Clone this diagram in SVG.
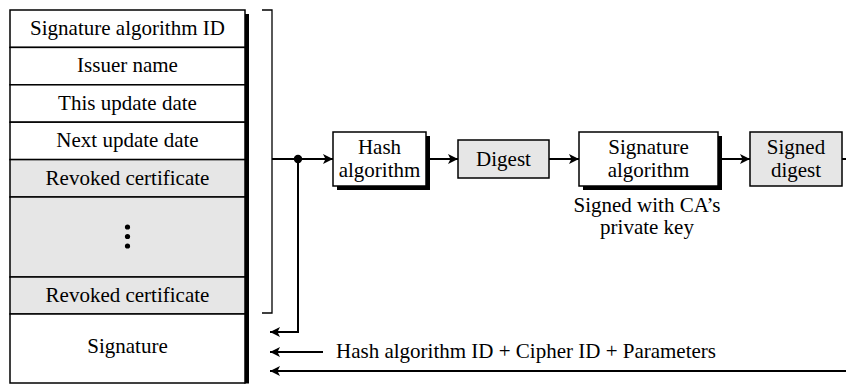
<svg xmlns="http://www.w3.org/2000/svg" width="846" height="385" viewBox="0 0 846 385">
<style>
text{font-family:"Liberation Serif","Times New Roman",serif;font-size:21px;fill:#000;text-anchor:middle}
.cell{stroke:#000;stroke-width:1.5}
.w{fill:#fff}
.g{fill:#e6e6e6}
.sh{fill:#000}
.ln{fill:none;stroke:#000;stroke-width:2}
.br{fill:none;stroke:#000;stroke-width:1.3}
</style>
<defs>
<marker id="ah" viewBox="0 0 10 10" refX="10" refY="5" markerWidth="10" markerHeight="10" markerUnits="userSpaceOnUse" orient="auto">
<path d="M0,0 L10,5 L0,10 L2.5,5 Z" fill="#000"/>
</marker>
</defs>
<g id="crl">
<rect class="sh" x="244" y="14" width="5" height="369.5"/>
<rect class="cell w" x="10" y="10" width="235" height="37.4"/>
<rect class="cell w" x="10" y="47.4" width="235" height="37.4"/>
<rect class="cell w" x="10" y="84.8" width="235" height="37.4"/>
<rect class="cell w" x="10" y="122.2" width="235" height="37.4"/>
<rect class="cell g" x="10" y="159.6" width="235" height="37.4"/>
<rect class="cell g" x="10" y="197" width="235" height="80"/>
<rect class="cell g" x="10" y="277" width="235" height="37"/>
<rect class="cell w" x="10" y="314" width="235" height="69"/>
<text x="127.5" y="35">Signature algorithm ID</text>
<text x="127.5" y="72">Issuer name</text>
<text x="127.5" y="110">This update date</text>
<text x="127.5" y="147">Next update date</text>
<text x="127.5" y="185">Revoked certificate</text>
<circle cx="127.5" cy="227" r="2.6"/>
<circle cx="127.5" cy="236.5" r="2.6"/>
<circle cx="127.5" cy="246" r="2.6"/>
<text x="127.5" y="302">Revoked certificate</text>
<text x="127.5" y="353">Signature</text>
</g>
<g id="hash">
<rect class="sh" x="337" y="136" width="93" height="54"/>
<rect class="cell w" x="333" y="132" width="93" height="54"/>
<text x="379.5" y="154">Hash</text>
<text x="379.5" y="177">algorithm</text>
</g>
<g id="digest">
<rect class="cell g" x="458" y="140" width="91" height="38"/>
<text x="503.5" y="166">Digest</text>
</g>
<g id="sigalg">
<rect class="sh" x="583" y="136" width="139" height="54"/>
<rect class="cell w" x="579" y="132" width="139" height="54"/>
<text x="648.5" y="154">Signature</text>
<text x="648.5" y="177">algorithm</text>
</g>
<g id="signed">
<rect class="cell g" x="750" y="132" width="92" height="54"/>
<text x="796" y="154">Signed</text>
<text x="796" y="177">digest</text>
</g>
<g id="labels">
<text x="647" y="212">Signed with CA’s</text>
<text x="647" y="234">private key</text>
<text x="336" y="358" style="text-anchor:start">Hash algorithm ID + Cipher ID + Parameters</text>
</g>
<g id="connectors">
<path class="br" d="M262,10 H272 V313 H262"/>
<path class="ln" d="M272,159 H333" marker-end="url(#ah)"/>
<circle cx="298" cy="159" r="4.2"/>
<path class="ln" d="M298,159 V332 H270" marker-end="url(#ah)"/>
<path class="ln" d="M430,159 H458" marker-end="url(#ah)"/>
<path class="ln" d="M549,159 H579" marker-end="url(#ah)"/>
<path class="ln" d="M722,159 H750" marker-end="url(#ah)"/>
<path class="ln" d="M842,159 H846"/>
<path class="ln" d="M323,352 H270" marker-end="url(#ah)"/>
<path class="ln" d="M846,371 H270" marker-end="url(#ah)"/>
</g>
</svg>
